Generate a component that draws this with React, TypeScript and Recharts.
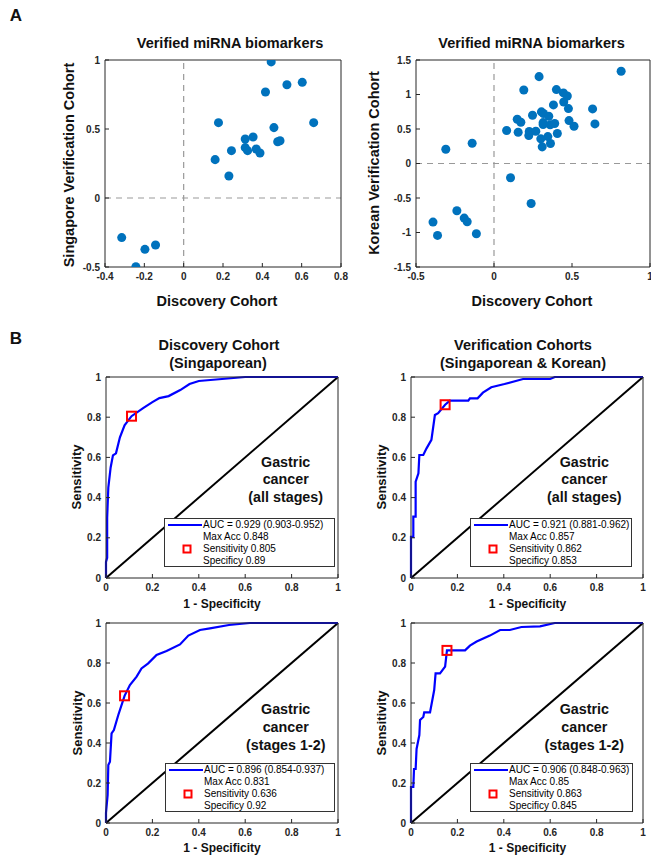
import React from 'react';
import {
  ScatterChart,
  ComposedChart,
  Scatter,
  Line,
  XAxis,
  YAxis,
  ZAxis,
  ReferenceLine,
  Legend,
} from 'recharts';

const FONT = '"Liberation Sans", Arial, Helvetica, sans-serif';
const AX = '#262626';
const DOT = '#0072BD';
const ROC_BLUE = '#0000FF';

// panel A: discovery vs verification fold changes
const sgDiscovery = [-0.315, -0.197, -0.143, -0.243, 0.445, 0.416, 0.525, 0.603, 0.177, 0.661, 0.459, 0.313, 0.353, 0.16, 0.243, 0.23, 0.313, 0.325, 0.369, 0.388, 0.478, 0.49];
const sgVerification = [-0.287, -0.372, -0.341, -0.498, 0.986, 0.768, 0.821, 0.838, 0.546, 0.546, 0.51, 0.428, 0.442, 0.278, 0.343, 0.159, 0.365, 0.343, 0.355, 0.326, 0.408, 0.415];

const krDiscovery = [0.815, 0.289, 0.191, 0.4, 0.445, 0.47, 0.447, 0.381, 0.477, 0.632, 0.304, 0.317, 0.247, 0.351, 0.149, 0.172, 0.481, 0.315, 0.315, 0.36, 0.389, 0.513, 0.647, 0.081, 0.155, 0.226, 0.268, 0.223, 0.345, 0.406, 0.3, 0.362, 0.309, -0.309, -0.14, 0.106, 0.238, -0.238, -0.191, -0.172, -0.391, -0.362, -0.113];
const krVerification = [1.336, 1.259, 1.066, 1.071, 1.023, 0.979, 0.892, 0.849, 0.796, 0.791, 0.748, 0.724, 0.7, 0.685, 0.642, 0.598, 0.622, 0.593, 0.564, 0.56, 0.579, 0.54, 0.574, 0.478, 0.453, 0.463, 0.468, 0.405, 0.39, 0.434, 0.357, 0.289, 0.241, 0.207, 0.294, -0.207, -0.579, -0.685, -0.791, -0.844, -0.849, -1.042, -1.018];

const sgXTicks = [-0.4, -0.2, 0, 0.2, 0.4, 0.6, 0.8];
const sgYTicks = [-0.5, 0, 0.5, 1];
const krXTicks = [-0.5, 0, 0.5, 1];
const krYTicks = [-1.5, -1, -0.5, 0, 0.5, 1, 1.5];
const rocTicks = [0, 0.2, 0.4, 0.6, 0.8, 1];

// panel B: ROC curves (1 - specificity, sensitivity)
const discAllFpr = [0, 0, 0.005, 0.005, 0.01, 0.02, 0.03, 0.043, 0.06, 0.08, 0.11, 0.16, 0.2, 0.23, 0.27, 0.32, 0.36, 0.4, 0.5, 0.6, 1];
const discAllTpr = [0, 0.08, 0.1, 0.3, 0.45, 0.55, 0.61, 0.62, 0.7, 0.76, 0.805, 0.845, 0.875, 0.895, 0.905, 0.935, 0.965, 0.98, 0.99, 1, 1];

const verAllFpr = [0, 0, 0.01, 0.01, 0.02, 0.02, 0.032, 0.036, 0.053, 0.067, 0.088, 0.103, 0.117, 0.147, 0.168, 0.247, 0.254, 0.287, 0.31, 0.346, 0.403, 0.483, 0.6, 0.62, 1];
const verAllTpr = [0, 0.205, 0.205, 0.305, 0.305, 0.479, 0.521, 0.612, 0.612, 0.645, 0.687, 0.811, 0.82, 0.862, 0.882, 0.882, 0.894, 0.894, 0.922, 0.949, 0.965, 0.99, 0.99, 1, 1];

const discEarlyFpr = [0, 0, 0.007, 0.01, 0.017, 0.024, 0.034, 0.053, 0.08, 0.103, 0.132, 0.153, 0.182, 0.218, 0.261, 0.319, 0.355, 0.405, 0.448, 0.53, 0.62, 1];
const discEarlyTpr = [0, 0.05, 0.14, 0.29, 0.307, 0.448, 0.465, 0.54, 0.636, 0.69, 0.732, 0.773, 0.798, 0.84, 0.86, 0.893, 0.937, 0.965, 0.973, 0.99, 1, 1];

const verEarlyFpr = [0, 0, 0.01, 0.013, 0.02, 0.024, 0.036, 0.039, 0.053, 0.057, 0.082, 0.1, 0.106, 0.125, 0.147, 0.155, 0.233, 0.254, 0.283, 0.34, 0.384, 0.426, 0.476, 0.556, 0.62, 1];
const verEarlyTpr = [0, 0.18, 0.18, 0.27, 0.27, 0.37, 0.44, 0.515, 0.53, 0.553, 0.553, 0.665, 0.748, 0.748, 0.782, 0.863, 0.863, 0.887, 0.907, 0.937, 0.965, 0.965, 0.98, 0.983, 1, 1];

const chanceFpr = [0, 1];
const chanceTpr = [0, 1];

const cutoffs = [
  { x: 0.11, y: 0.805 },
  { x: 0.147, y: 0.862 },
  { x: 0.08, y: 0.636 },
  { x: 0.155, y: 0.863 },
];

const legendText = [
  ['AUC = 0.929 (0.903-0.952)', 'Max Acc 0.848', 'Sensitivity 0.805', 'Specificy 0.89'],
  ['AUC = 0.921 (0.881-0.962)', 'Max Acc 0.857', 'Sensitivity 0.862', 'Specificy 0.853'],
  ['AUC = 0.896 (0.854-0.937)', 'Max Acc 0.831', 'Sensitivity 0.636', 'Specificy 0.92'],
  ['AUC = 0.906 (0.848-0.963)', 'Max Acc 0.85', 'Sensitivity 0.863', 'Specificy 0.845'],
];

const zip = (xs: number[], ys: number[]) => xs.map((x, i) => ({ x, y: ys[i] }));

const tickStyle = { fontSize: 10, fontWeight: 700, fill: AX, fontFamily: FONT };

const ML = 40;
const MT = 6;
const MR = 12;

function ScatterPanel({ px, py, pw, ph, pts, xDom, yDom, xTicks, yTicks }: any) {
  return (
    <div style={{ position: 'absolute', left: px - ML, top: py - MT }}>
      <ScatterChart width={pw + ML + 1 + MR} height={ph + MT + 24} margin={{ top: MT - 1, right: MR, bottom: 0, left: 0 }}>
        <XAxis type="number" dataKey="x" domain={xDom} ticks={xTicks} interval={0} allowDataOverflow height={24} tickSize={-4} tickMargin={10} tick={tickStyle} stroke={AX} />
        <XAxis xAxisId="t" orientation="top" type="number" domain={xDom} ticks={xTicks} interval={0} allowDataOverflow height={1} tickSize={-4} tick={false} stroke={AX} />
        <YAxis type="number" dataKey="y" domain={yDom} ticks={yTicks} interval={0} allowDataOverflow width={ML} tickSize={-4} tickMargin={9} tick={tickStyle} stroke={AX} />
        <YAxis yAxisId="r" orientation="right" type="number" domain={yDom} ticks={yTicks} interval={0} allowDataOverflow width={1} tickSize={-4} tick={false} stroke={AX} />
        <ZAxis range={[30, 30]} />
        <ReferenceLine x={0} stroke="#999" strokeDasharray="6 5" strokeWidth={1.2} />
        <ReferenceLine y={0} stroke="#999" strokeDasharray="6 5" strokeWidth={1.2} />
        <Scatter data={pts} fill={DOT} isAnimationActive={false} />
      </ScatterChart>
    </div>
  );
}

const cutoffShape = (p: any) => (
  <rect x={p.cx - 4.5} y={p.cy - 4.5} width={9} height={9} fill="none" stroke="#FF0000" strokeWidth={2} />
);

function RocLegend({ lines }: { lines: string[] }) {
  const row = { height: 12, lineHeight: '12px', whiteSpace: 'nowrap' as const, position: 'relative' as const, paddingLeft: 38 };
  return (
    <div style={{ border: '1px solid #333', background: '#fff', boxSizing: 'border-box', paddingTop: 0, height: '100%', fontFamily: FONT, fontSize: 10, color: '#000' }}>
      <div style={row}>
        <svg width={36} height={12} style={{ position: 'absolute', left: 2, top: 0 }}>
          <line x1={1} y1={6} x2={35} y2={6} stroke={ROC_BLUE} strokeWidth={2} />
        </svg>
        {lines[0]}
      </div>
      <div style={row}>{lines[1]}</div>
      <div style={row}>
        <svg width={12} height={12} style={{ position: 'absolute', left: 16, top: 0 }}>
          <rect x={2.5} y={2.5} width={7} height={7} fill="none" stroke="#FF0000" strokeWidth={2} />
        </svg>
        {lines[2]}
      </div>
      <div style={row}>{lines[3]}</div>
    </div>
  );
}

function RocPanel({ px, py, pw, ph, curve, cutoff, lines, lg }: any) {
  return (
    <div style={{ position: 'absolute', left: px - ML, top: py - MT }}>
      <ComposedChart width={pw + ML + 1 + MR} height={ph + MT + 24} margin={{ top: MT - 1, right: MR, bottom: 0, left: 0 }}>
        <XAxis type="number" dataKey="x" domain={[0, 1]} ticks={rocTicks} interval={0} height={24} tickSize={-4} tickMargin={10} tick={tickStyle} stroke={AX} />
        <XAxis xAxisId="t" orientation="top" type="number" dataKey="x" domain={[0, 1]} ticks={rocTicks} interval={0} height={1} tickSize={-4} tick={false} stroke={AX} />
        <YAxis type="number" dataKey="y" domain={[0, 1]} ticks={rocTicks} interval={0} width={ML} tickSize={-4} tickMargin={9} tick={tickStyle} stroke={AX} />
        <YAxis yAxisId="r" orientation="right" type="number" dataKey="y" domain={[0, 1]} ticks={rocTicks} interval={0} width={1} tickSize={-4} tick={false} stroke={AX} />
        <Line data={zip(chanceFpr, chanceTpr)} dataKey="y" type="linear" stroke="#000" strokeWidth={2} dot={false} isAnimationActive={false} legendType="none" />
        <Line data={curve} dataKey="y" type="linear" stroke={ROC_BLUE} strokeWidth={2.2} dot={false} isAnimationActive={false} />
        <Scatter data={[cutoff]} shape={cutoffShape} isAnimationActive={false} />
        <Legend
          layout="horizontal"
          verticalAlign="middle"
          align="center"
          content={() => <RocLegend lines={lines} />}
          wrapperStyle={{ left: lg[0] - (px - ML), top: lg[1] - (py - MT), width: lg[2], height: lg[3] }}
        />
      </ComposedChart>
    </div>
  );
}

function T({ x, y, size, rot, children, weight = 700 }: any) {
  return (
    <div
      style={{
        position: 'absolute',
        left: x,
        top: y,
        transform: `translate(-50%, -50%)${rot ? ' rotate(-90deg)' : ''}`,
        fontSize: size,
        fontWeight: weight,
        fontFamily: FONT,
        color: '#111',
        whiteSpace: 'nowrap',
        lineHeight: 1,
      }}
    >
      {children}
    </div>
  );
}

export default function App() {
  return (
    <div style={{ position: 'absolute', left: 0, top: 0, width: 651, height: 856, overflow: 'hidden', background: '#fff' }}>
      <ScatterPanel px={105} py={60} pw={236} ph={207} pts={zip(sgDiscovery, sgVerification)} xDom={[-0.4, 0.8]} yDom={[-0.5, 1]} xTicks={sgXTicks} yTicks={sgYTicks} />
      <ScatterPanel px={416} py={60} pw={234} ph={207} pts={zip(krDiscovery, krVerification)} xDom={[-0.5, 1]} yDom={[-1.5, 1.5]} xTicks={krXTicks} yTicks={krYTicks} />

      <RocPanel px={106} py={377} pw={232} ph={201} curve={zip(discAllFpr, discAllTpr)} cutoff={cutoffs[0]} lines={legendText[0]} lg={[164, 518, 171, 49]} />
      <RocPanel px={411} py={377} pw={232} ph={201} curve={zip(verAllFpr, verAllTpr)} cutoff={cutoffs[1]} lines={legendText[1]} lg={[470, 518, 162, 49]} />
      <RocPanel px={106} py={623} pw={232} ph={200} curve={zip(discEarlyFpr, discEarlyTpr)} cutoff={cutoffs[2]} lines={legendText[2]} lg={[165, 763, 170, 49]} />
      <RocPanel px={411} py={623} pw={232} ph={200} curve={zip(verEarlyFpr, verEarlyTpr)} cutoff={cutoffs[3]} lines={legendText[3]} lg={[470, 763, 163, 49]} />

      <T x={16} y={15} size={17}>A</T>
      <T x={16} y={338} size={17}>B</T>

      <T x={230} y={43} size={14.5}>Verified miRNA biomarkers</T>
      <T x={531.5} y={43} size={14.5}>Verified miRNA biomarkers</T>
      <T x={68.5} y={165} size={14.5} rot>Singapore Verification Cohort</T>
      <T x={374} y={163} size={14.5} rot>Korean Verification Cohort</T>
      <T x={217} y={301} size={14.5}>Discovery Cohort</T>
      <T x={532} y={301} size={14.5}>Discovery Cohort</T>

      <T x={219} y={345} size={14.5}>Discovery Cohort</T>
      <T x={218} y={363} size={14.5}>(Singaporean)</T>
      <T x={523} y={345} size={14.5}>Verification Cohorts</T>
      <T x={523} y={363} size={14.5}>(Singaporean &amp; Korean)</T>

      <T x={76} y={477} size={13} rot>Sensitivity</T>
      <T x={381} y={477} size={13} rot>Sensitivity</T>
      <T x={76.5} y={723} size={13} rot>Sensitivity</T>
      <T x={381} y={723} size={13} rot>Sensitivity</T>
      <T x={222} y={604} size={12}>1 - Specificity</T>
      <T x={527.5} y={604} size={12}>1 - Specificity</T>
      <T x={222} y={848} size={12}>1 - Specificity</T>
      <T x={527.5} y={848} size={12}>1 - Specificity</T>

      <T x={285.7} y={462} size={14.3}>Gastric</T>
      <T x={285.7} y={479} size={14.3}>cancer</T>
      <T x={285.7} y={497} size={14.3}>(all stages)</T>
      <T x={584.3} y={462} size={14.3}>Gastric</T>
      <T x={584.3} y={479} size={14.3}>cancer</T>
      <T x={584.3} y={497} size={14.3}>(all stages)</T>
      <T x={285.7} y={709} size={14.3}>Gastric</T>
      <T x={285.7} y={727} size={14.3}>cancer</T>
      <T x={285.7} y={745} size={14.3}>(stages 1-2)</T>
      <T x={584.3} y={709} size={14.3}>Gastric</T>
      <T x={584.3} y={727} size={14.3}>cancer</T>
      <T x={584.3} y={745} size={14.3}>(stages 1-2)</T>
    </div>
  );
}
